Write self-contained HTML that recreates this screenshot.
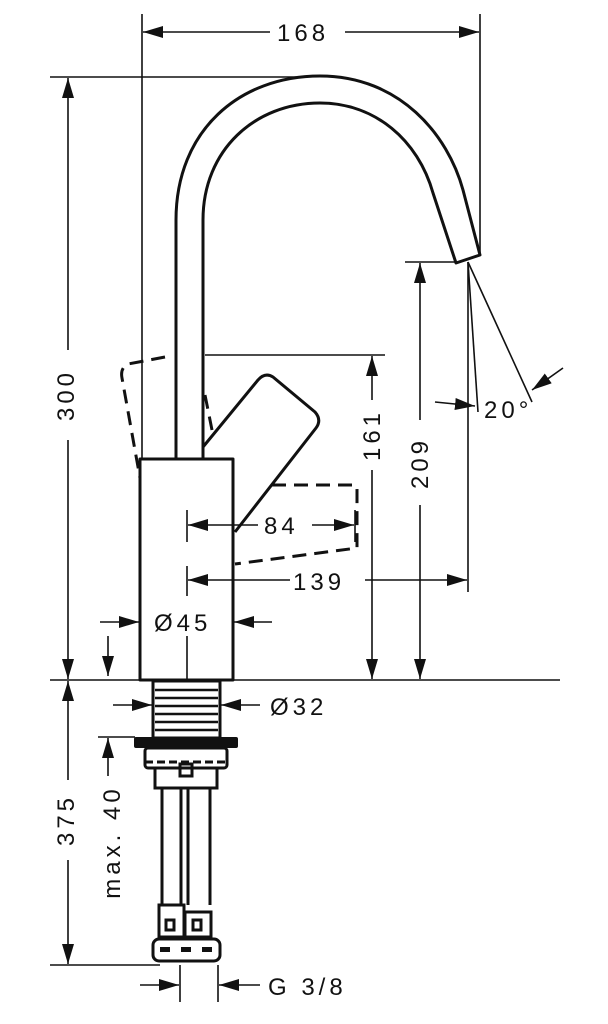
<!DOCTYPE html>
<html><head><meta charset="utf-8"><style>
html,body{margin:0;padding:0;background:#fff;}
svg{display:block;}
text{font-family:"Liberation Sans",sans-serif;font-size:24px;fill:#111;letter-spacing:4px;}
</style></head><body>
<svg width="608" height="1024" viewBox="0 0 608 1024" xmlns="http://www.w3.org/2000/svg">
<defs>
<marker id="a" viewBox="0 0 20 12" refX="20" refY="6" markerWidth="20" markerHeight="12" markerUnits="userSpaceOnUse" orient="auto">
<path d="M0,0 L20,6 L0,12 Z" fill="#111"/></marker>
</defs>
<g stroke="#111" stroke-width="1.6" fill="none">
<line x1="142" y1="14" x2="142" y2="460"/>
<line x1="480" y1="14" x2="480" y2="255"/>
<line x1="270" y1="32" x2="143" y2="32" marker-end="url(#a)"/>
<line x1="345" y1="32" x2="479" y2="32" marker-end="url(#a)"/>
<line x1="50" y1="77" x2="300" y2="77"/>
<line x1="50" y1="680" x2="560" y2="680"/>
<line x1="68" y1="350" x2="68" y2="78" marker-end="url(#a)"/>
<line x1="68" y1="440" x2="68" y2="679" marker-end="url(#a)"/>
<line x1="68" y1="780" x2="68" y2="681" marker-end="url(#a)"/>
<line x1="68" y1="860" x2="68" y2="964" marker-end="url(#a)"/>
<line x1="50" y1="965" x2="160" y2="965"/>
<line x1="205" y1="355" x2="385" y2="355"/>
<line x1="372" y1="400" x2="372" y2="356" marker-end="url(#a)"/>
<line x1="372" y1="470" x2="372" y2="679" marker-end="url(#a)"/>
<line x1="405" y1="262" x2="455" y2="262"/>
<line x1="420" y1="420" x2="420" y2="263" marker-end="url(#a)"/>
<line x1="420" y1="505" x2="420" y2="679" marker-end="url(#a)"/>
<line x1="468" y1="262" x2="468" y2="592"/>
<line x1="468" y1="262" x2="478" y2="412"/>
<line x1="468" y1="262" x2="532" y2="402"/>
<line x1="435" y1="402" x2="475" y2="406" marker-end="url(#a)"/>
<line x1="563" y1="368" x2="532" y2="390" marker-end="url(#a)"/>
<line x1="187" y1="510" x2="187" y2="542"/>
<line x1="355" y1="510" x2="355" y2="542"/>
<line x1="258" y1="525" x2="188" y2="525" marker-end="url(#a)"/>
<line x1="312" y1="525" x2="354" y2="525" marker-end="url(#a)"/>
<line x1="187" y1="566" x2="187" y2="596"/>
<line x1="187" y1="636" x2="187" y2="680"/>
<line x1="290" y1="580" x2="188" y2="580" marker-end="url(#a)"/>
<line x1="365" y1="580" x2="467" y2="580" marker-end="url(#a)"/>
<line x1="100" y1="622" x2="139" y2="622" marker-end="url(#a)"/>
<line x1="272" y1="622" x2="234" y2="622" marker-end="url(#a)"/>
<line x1="108" y1="636" x2="108" y2="676" marker-end="url(#a)"/>
<line x1="113" y1="705" x2="152" y2="705" marker-end="url(#a)"/>
<line x1="260" y1="705" x2="221" y2="705" marker-end="url(#a)"/>
<line x1="98" y1="737" x2="135" y2="737"/>
<line x1="108" y1="776" x2="108" y2="738" marker-end="url(#a)"/>
<line x1="180" y1="965" x2="180" y2="1002"/>
<line x1="218" y1="965" x2="218" y2="1002"/>
<line x1="140" y1="985" x2="179" y2="985" marker-end="url(#a)"/>
<line x1="260" y1="985" x2="219" y2="985" marker-end="url(#a)"/>
</g>
<g stroke="#111" stroke-width="3" fill="none" stroke-linejoin="round">
<path d="M176,460 V220 C176,130 240,76 320,76 C400,76 448,135 463,190 L480,255 L456,263 L433,193 C418,140 375,103 320,103 C255,103 203,150 203,220 V460"/>
<rect x="140" y="459" width="93" height="221"/>
<path d="M203,447 L258,380 Q265,372 273,377 L315,412 Q322,420 316,428 L235,532"/>
<g stroke-dasharray="14,8">
<path d="M165,357 L128,364 Q120,368 122,378 L140,478"/>
<path d="M205,395 L212,430"/>
<path d="M272,485 L355,485 Q357,485 357,490 L357,548 L235,564"/>
</g>
<rect x="153" y="681" width="67" height="57"/>
</g>
<g stroke="#111" stroke-width="2.4">
<line x1="155" y1="690" x2="218" y2="690"/><line x1="155" y1="698" x2="218" y2="698"/>
<line x1="155" y1="706" x2="218" y2="706"/><line x1="155" y1="714" x2="218" y2="714"/>
<line x1="155" y1="722" x2="218" y2="722"/><line x1="155" y1="730" x2="218" y2="730"/>
</g>
<rect x="134" y="737" width="104" height="11" rx="2" fill="#111"/>
<g stroke="#111" stroke-width="3" fill="none">
<rect x="145" y="748" width="82" height="20" rx="3"/>
<rect x="155" y="768" width="62" height="20"/>
<line x1="145" y1="762" x2="227" y2="762" stroke-dasharray="8,4"/>
<rect x="180" y="764" width="12" height="12"/>
<line x1="162" y1="788" x2="162" y2="905"/>
<line x1="210" y1="788" x2="210" y2="905"/>
<line x1="181" y1="788" x2="181" y2="905"/>
<line x1="188" y1="788" x2="188" y2="905"/>
<rect x="159" y="905" width="25" height="32"/>
<rect x="185" y="912" width="26" height="25"/>
<rect x="166" y="920" width="8" height="10"/><rect x="193" y="920" width="8" height="10"/>
<rect x="153" y="939" width="67" height="22" rx="6"/>
</g>
<g fill="#111"><rect x="160" y="947" width="10" height="5"/><rect x="181" y="947" width="10" height="5"/><rect x="202" y="947" width="10" height="5"/></g>
<g>
<rect x="272" y="20" width="70" height="26" fill="#fff"/>
<text x="277" y="41">168</text>
<text x="66" y="395" transform="rotate(-90 66 395)" text-anchor="middle" dy="8">300</text>
<text x="66" y="820" transform="rotate(-90 66 820)" text-anchor="middle" dy="8">375</text>
<text x="372" y="435" transform="rotate(-90 372 435)" text-anchor="middle" dy="8">161</text>
<text x="420" y="463" transform="rotate(-90 420 463)" text-anchor="middle" dy="8">209</text>
<text x="112" y="842" transform="rotate(-90 112 842)" text-anchor="middle" dy="8">max. 40</text>
<text x="484" y="418">20°</text>
<text x="264" y="534">84</text>
<text x="293" y="590">139</text>
<text x="154" y="631">Ø45</text>
<text x="270" y="715">Ø32</text>
<text x="268" y="995">G 3/8</text>
</g>
</svg>
</body></html>
